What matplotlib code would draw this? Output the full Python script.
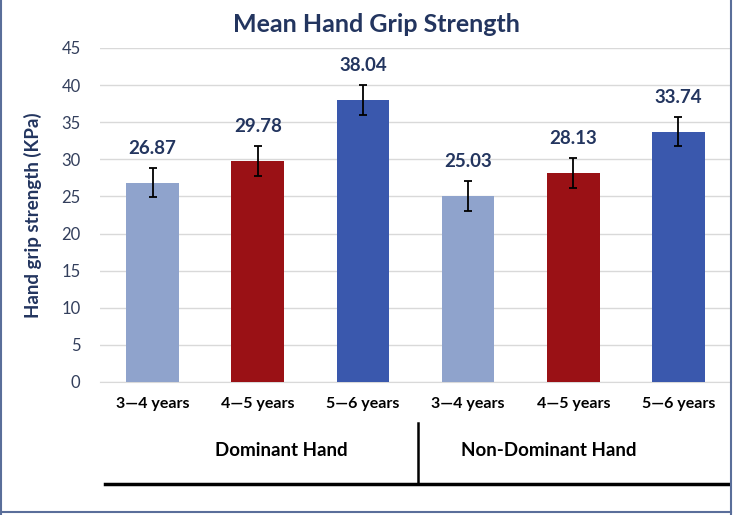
"""
Mean hand grip strength by age group, dominant vs non-dominant hand
"""

import matplotlib.pyplot as plt
from matplotlib.lines import Line2D

plt.rcParams['font.family'] = ['Lato', 'DejaVu Sans']

# Données
age_groups = ['3—4 years', '4—5 years', '5—6 years', '3—4 years', '4—5 years', '5—6 years']
hand_groups = ['Dominant Hand', 'Non-Dominant Hand']
mean_values = [26.87, 29.78, 38.04, 25.03, 28.13, 33.74]
error_values = [2.0, 2.0, 2.0, 2.0, 2.0, 2.0]
bar_colors = ['#8FA3CC', '#9A1115', '#3A58AD', '#8FA3CC', '#9A1115', '#3A58AD']

navy = '#23355F'

fig = plt.figure(figsize=(7.35, 5.15), dpi=100)
W, H = 735, 515
ax = fig.add_axes([100 / W, 1 - 382 / H, 631 / W, 334 / H])

x = list(range(len(mean_values)))
ax.bar(x, mean_values, width=0.5, color=bar_colors, zorder=3)
ax.errorbar(x, mean_values, yerr=error_values, fmt='none', ecolor='black',
            elinewidth=1.3, capsize=3, capthick=1.3, zorder=4)

# Étiquettes des valeurs
for xi, v, e in zip(x, mean_values, error_values):
    ax.text(xi, v + e + 1.5, f'{v:.2f}', ha='center', va='bottom',
            fontsize=13.5, fontweight='bold', color=navy)

ax.set_xlim(-0.5, 5.5)
ax.set_ylim(0, 45)
ax.set_yticks(range(0, 46, 5))
ax.yaxis.grid(True, color='#D9D9D9', linewidth=1)
ax.set_axisbelow(True)
for side in ['top', 'right', 'left']:
    ax.spines[side].set_visible(False)
ax.spines['bottom'].set_color('#D9D9D9')
ax.tick_params(axis='y', length=0, labelsize=12, labelcolor='#333F5C', pad=14)
ax.tick_params(axis='x', length=0, pad=11)
ax.set_xticks(x)
ax.set_xticklabels(age_groups, fontsize=11.5, fontweight='bold')

ax.set_ylabel('Hand grip strength (KPa)', fontsize=13.5, fontweight='bold',
              color=navy)
ax.yaxis.set_label_coords(-58 / 631, 0.5)
fig.text(376 / W, 1 - 25 / H, 'Mean Hand Grip Strength', ha='center', va='center',
         fontsize=18, fontweight='bold', color=navy)

# Groupes (main dominante / non dominante)
group_centers = [281, 549]
for cx, name in zip(group_centers, hand_groups):
    fig.text(cx / W, 1 - 451 / H, name, ha='center', va='center',
             fontsize=13.5, fontweight='bold')
fig.add_artist(Line2D([105 / W, 729 / W], [1 - 484 / H, 1 - 484 / H],
                      color='black', linewidth=2.5))
fig.add_artist(Line2D([418 / W, 418 / W], [1 - 423 / H, 1 - 484 / H],
                      color='black', linewidth=1.8))

# Cadre
frame_col = '#5A6E9A'
fig.add_artist(Line2D([1 / W, 1 / W], [0, 1], color=frame_col, linewidth=1.5))
fig.add_artist(Line2D([731 / W, 731 / W], [0, 1], color=frame_col, linewidth=1.5))
fig.add_artist(Line2D([0, 731 / W], [1 - 512 / H, 1 - 512 / H], color=frame_col, linewidth=1.5))

plt.savefig('out.png', dpi=100)
plt.close()
